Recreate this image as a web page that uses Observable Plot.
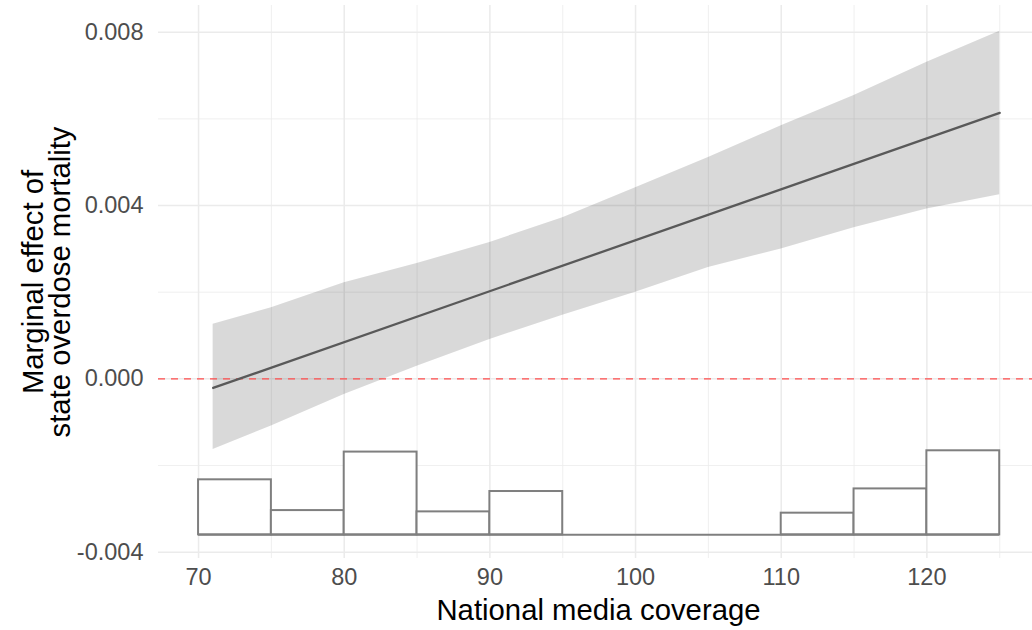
<!DOCTYPE html>
<html>
<head>
<meta charset="utf-8">
<script src="https://cdn.jsdelivr.net/npm/d3@7"></script>
<script src="https://cdn.jsdelivr.net/npm/@observablehq/plot@0.6"></script>
<style>
  body { margin: 0; background: #fff; }
  #chart svg { display: block; }
</style>
</head>
<body>
<div id="chart"></div>
<script>
// Marginal effect line (endpoints of the fitted line)
const lineX = [71, 125];
const lineY = [-0.00021, 0.00614];

// Confidence band
const bandX     = [71, 75, 80, 85, 90, 95, 100, 105, 110, 115, 120, 125];
const bandUpper = [0.00126, 0.00164, 0.00222, 0.00266, 0.00315, 0.00372, 0.00441, 0.00511, 0.00584, 0.00654, 0.00731, 0.00802];
const bandLower = [-0.00163, -0.00109, -0.00036, 0.00029, 0.00091, 0.00147, 0.00200, 0.00257, 0.00300, 0.00349, 0.00392, 0.00425];

// Histogram of national media coverage (drawn in the y units of the panel)
const histStart = [70, 75, 80, 85, 90, 95, 100, 105, 110, 115, 120];
const histEnd   = [75, 80, 85, 90, 95, 100, 105, 110, 115, 120, 125];
const histBase  = -0.0036;
const histTop   = [-0.00233, -0.00304, -0.00169, -0.00307, -0.00260, -0.0036, -0.0036, -0.0036, -0.00310, -0.00254, -0.00166];

const xTicks = [70, 80, 90, 100, 110, 120];
const xMinor = [75, 85, 95, 105, 115, 125];
const yTicks = [-0.004, 0.000, 0.004, 0.008];
const yMinor = [-0.002, 0.002, 0.006];

const xTitle = "National media coverage";
const yTitle = "Marginal effect of\nstate overdose mortality";

const band = bandX.map((x, i) => ({x, lo: bandLower[i], hi: bandUpper[i]}));
const line = lineX.map((x, i) => ({x, y: lineY[i]}));
const hist = histStart.map((s, i) => ({x1: s, x2: histEnd[i], y1: histBase, y2: histTop[i]}));

const chart = Plot.plot({
  width: 1032,
  height: 630,
  marginLeft: 158,
  marginRight: 0,
  marginTop: 5,
  marginBottom: 72,
  style: {fontFamily: "'Liberation Sans', Arial, sans-serif", background: "#fff"},
  x: {domain: [67.25, 127.25]},
  y: {domain: [-0.004146, 0.008617]},
  marks: [
    Plot.gridX(xMinor, {stroke: "#ebebeb", strokeOpacity: 1, strokeWidth: 0.8}),
    Plot.gridY(yMinor, {stroke: "#ebebeb", strokeOpacity: 1, strokeWidth: 0.8}),
    Plot.gridX(xTicks, {stroke: "#ebebeb", strokeOpacity: 1, strokeWidth: 1.5}),
    Plot.gridY(yTicks, {stroke: "#ebebeb", strokeOpacity: 1, strokeWidth: 1.5}),
    Plot.areaY(band, {x: "x", y1: "lo", y2: "hi", fill: "#000", fillOpacity: 0.15}),
    Plot.ruleY([0], {stroke: "#ff4d4d", strokeWidth: 1.3, strokeDasharray: "7,6"}),
    Plot.line(line, {x: "x", y: "y", stroke: "#595959", strokeWidth: 2.3}),
    Plot.rect(hist, {x1: "x1", x2: "x2", y1: "y1", y2: "y2", fill: "#fff", stroke: "#7f7f7f", strokeWidth: 2}),
    Plot.ruleY([histBase], {x1: histStart[0], x2: histEnd[histEnd.length - 1], stroke: "#7f7f7f", strokeWidth: 2}),
    Plot.axisX(xTicks, {tickSize: 0, tickPadding: 10, fontSize: 23.5, color: "#4d4d4d", label: null}),
    Plot.axisY(yTicks, {tickSize: 0, tickPadding: 15, fontSize: 23.5, color: "#4d4d4d", label: null, tickFormat: d => d.toFixed(3)}),
    Plot.text([xTitle], {frameAnchor: "bottom", dy: 52, dx: 3, fontSize: 29.3, fill: "#000", lineAnchor: "middle", textAnchor: "middle"}),
    Plot.text([yTitle], {frameAnchor: "left", dx: -111, rotate: -90, fontSize: 29.3, fill: "#000", lineAnchor: "middle", textAnchor: "middle", lineHeight: 0.93})
  ]
});
document.getElementById("chart").append(chart);
</script>
</body>
</html>
